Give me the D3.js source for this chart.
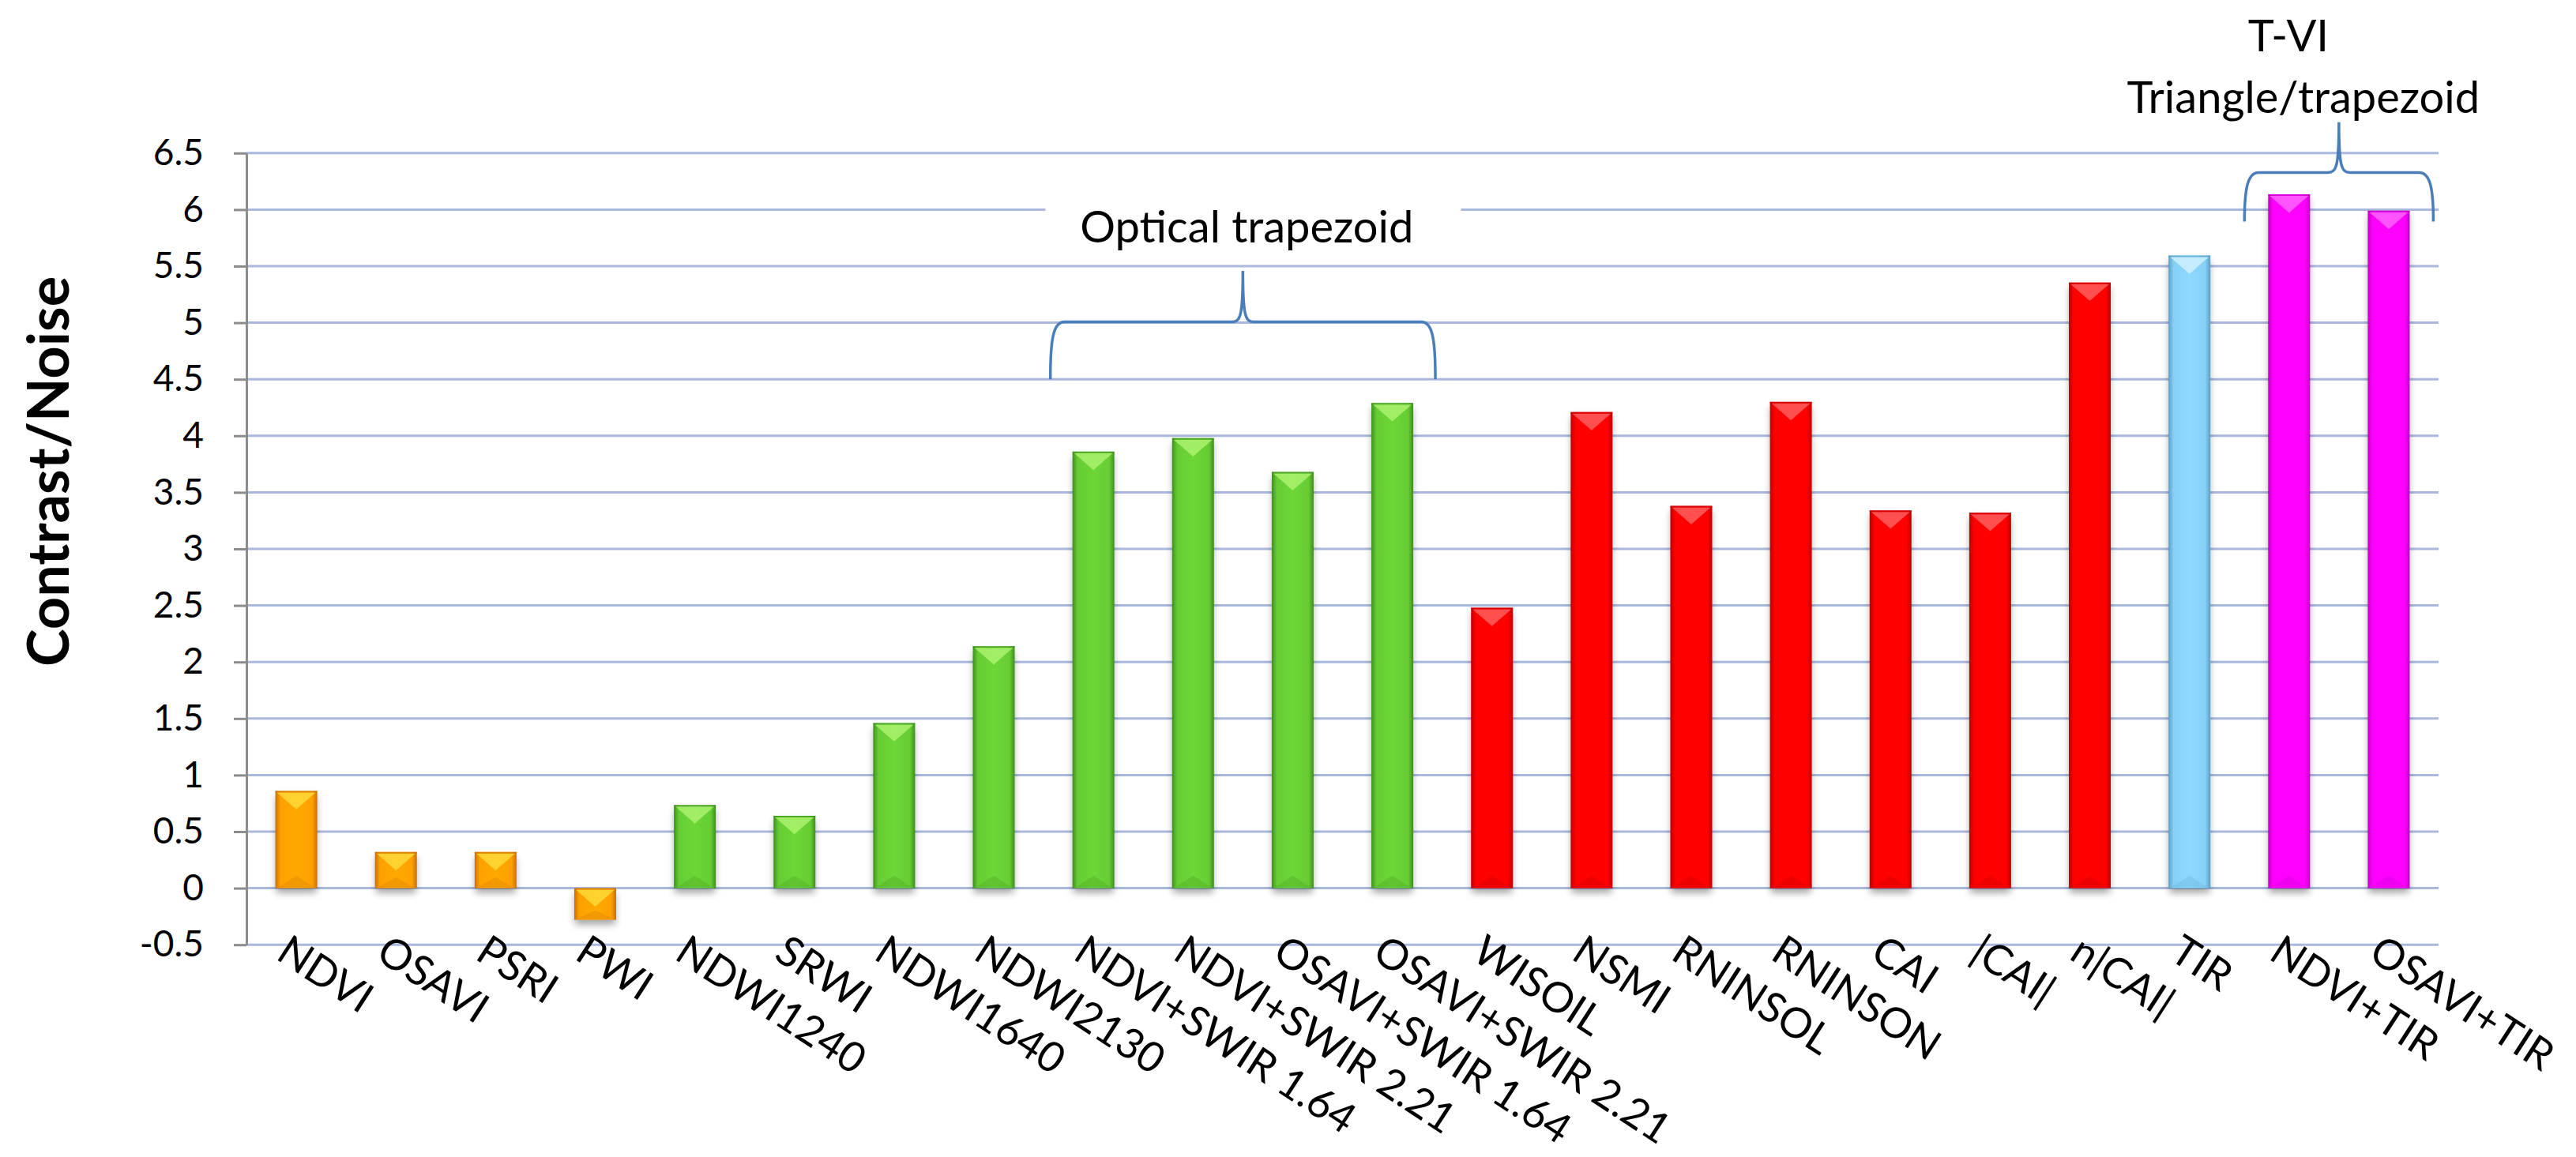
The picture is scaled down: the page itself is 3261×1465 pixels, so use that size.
<!DOCTYPE html>
<html>
<head>
<meta charset="utf-8">
<script src="https://cdn.jsdelivr.net/npm/d3@7"></script>
<style>
    body { margin: 0; background: #ffffff; }
    svg { display: block; }
</style>
</head>
<body>
<div id="chart"></div>
<script>
const WIDTH = 3261;
const HEIGHT = 1465;

const categories = [
    "NDVI", "OSAVI", "PSRI", "PWI", "NDWI1240", "SRWI", "NDWI1640", "NDWI2130",
    "NDVI+SWIR 1.64", "NDVI+SWIR 2.21", "OSAVI+SWIR 1.64", "OSAVI+SWIR 2.21",
    "WISOIL", "NSMI", "RNINSOL", "RNINSON", "CAI", "|CAI|", "n|CAI|",
    "TIR", "NDVI+TIR", "OSAVI+TIR"
];
const values = [
    0.86, 0.32, 0.32, -0.28, 0.735, 0.64, 1.46, 2.14,
    3.86, 3.98, 3.68, 4.29,
    2.48, 4.21, 3.38, 4.30, 3.34, 3.32, 5.355,
    5.595, 6.135, 5.99
];
const groups = [
    "vi", "vi", "vi", "vi", "water", "water", "water", "water",
    "water", "water", "water", "water",
    "soil", "soil", "soil", "soil", "soil", "soil", "soil",
    "tir", "tvi", "tvi"
];
const yTicks = [-0.5, 0, 0.5, 1, 1.5, 2, 2.5, 3, 3.5, 4, 4.5, 5, 5.5, 6, 6.5];
const yTitle = "Contrast/Noise";

// bracket annotations: first/last category covered, label lines
const braceFrom = ["NDVI+SWIR 1.64", "NDVI+TIR"];
const braceTo = ["OSAVI+SWIR 2.21", "OSAVI+TIR"];
const braceLabels = [["Optical trapezoid"], ["T-VI", "Triangle/trapezoid"]];

// colours: main, edge, highlight
const palette = {
    vi:    ["#ffa000", "#c87000", "#ffe040"],
    water: ["#66cc33", "#3e8f1e", "#b4f575"],
    soil:  ["#ff0000", "#c00000", "#ff6a6a"],
    tir:   ["#86cff5", "#5a9fc7", "#d8f3ff"],
    tvi:   ["#ff00ff", "#c000c0", "#ff70ff"]
};

const PLOT_LEFT = 312;
const PLOT_RIGHT = 3087;
const TICK_LEN = 16;
const LABEL_FONT = "Lato, 'Open Sans', sans-serif";

const x = d3.scaleBand()
    .domain(categories)
    .range([PLOT_LEFT, PLOT_RIGHT])
    .paddingInner(0.58)
    .paddingOuter(0.29);

const y = d3.scaleLinear()
    .domain([-0.5, 6.5])
    .range([1196.2, 193.8]);

const svg = d3.select("#chart")
    .append("svg")
    .attr("width", WIDTH)
    .attr("height", HEIGHT);

const defs = svg.append("defs");

Object.keys(palette).forEach((key) => {
    const [main, edge] = palette[key];
    const grad = defs.append("linearGradient")
        .attr("id", "bar-" + key)
        .attr("x1", "0").attr("x2", "1").attr("y1", "0").attr("y2", "0");
    grad.append("stop").attr("offset", "0").attr("stop-color", edge);
    grad.append("stop").attr("offset", "0.12").attr("stop-color", main);
    grad.append("stop").attr("offset", "0.5").attr("stop-color", d3.color(main).brighter(0.15));
    grad.append("stop").attr("offset", "0.88").attr("stop-color", main);
    grad.append("stop").attr("offset", "1").attr("stop-color", edge);
});

const shadow = defs.append("filter")
    .attr("id", "shadow")
    .attr("x", "-30%").attr("y", "-10%")
    .attr("width", "160%").attr("height", "140%");
shadow.append("feGaussianBlur").attr("stdDeviation", 5);

// gridlines
svg.append("g")
    .attr("class", "grid")
    .selectAll("line")
    .data(yTicks)
    .enter()
    .append("line")
    .attr("x1", PLOT_LEFT)
    .attr("x2", PLOT_RIGHT)
    .attr("y1", d => y(d))
    .attr("y2", d => y(d))
    .attr("stroke", "#a9b8dc")
    .attr("stroke-width", 3);

// braces
const bracePath = (x1, x2, yB, yM, yT, xp) => {
    return "M" + x1 + "," + yB
        + " C" + x1 + "," + (yM + 20) + " " + (x1 + 4) + "," + yM + " " + (x1 + 18) + "," + yM
        + " L" + (xp - 14) + "," + yM
        + " C" + (xp - 3) + "," + yM + " " + xp + "," + (yM - 8) + " " + xp + "," + yT
        + " C" + xp + "," + (yM - 8) + " " + (xp + 3) + "," + yM + " " + (xp + 14) + "," + yM
        + " L" + (x2 - 18) + "," + yM
        + " C" + (x2 - 4) + "," + yM + " " + x2 + "," + (yM + 20) + " " + x2 + "," + yB;
};

const braceGeom = [
    {pad: 28, yB: y(4.5), yM: y(5.0) - 1, yT: y(5.5) + 6, textDx: [5], textY: [307], box: true},
    {pad: 30, yB: y(6.0) + 15, yM: y(6.0) - 47, yT: y(6.5) - 39, textDx: [-64, -45], textY: [65, 143], box: false}
];

const gbrace = svg.append("g").attr("class", "braces");
braceLabels.forEach((lines, i) => {
    const g = braceGeom[i];
    const x1 = x(braceFrom[i]) - g.pad;
    const x2 = x(braceTo[i]) + x.bandwidth() + g.pad;
    const xp = (x1 + x2) / 2;
    gbrace.append("path")
        .attr("d", bracePath(x1, x2, g.yB, g.yM, g.yT, xp))
        .attr("fill", "none")
        .attr("stroke", "#4a7ebb")
        .attr("stroke-width", 3.5);

    if (g.box) {
        gbrace.append("rect")
            .attr("x", xp - 250)
            .attr("y", 238)
            .attr("width", 526)
            .attr("height", 86)
            .attr("fill", "#ffffff");
    }
    lines.forEach((line, j) => {
        gbrace.append("text")
            .attr("x", xp + g.textDx[j])
            .attr("y", g.textY[j])
            .attr("text-anchor", "middle")
            .attr("font-family", LABEL_FONT)
            .attr("font-size", 56)
            .attr("fill", "#000000")
            .text(line);
    });
});

// bars
const bars = svg.append("g").attr("class", "bars");
const bw = x.bandwidth();

bars.selectAll("rect.shadow")
    .data(categories)
    .enter()
    .append("rect")
    .attr("class", "shadow")
    .attr("x", d => x(d) + 1)
    .attr("y", (d, i) => y(Math.max(values[i], 0)) + 6)
    .attr("width", bw - 2)
    .attr("height", (d, i) => Math.abs(y(values[i]) - y(0)))
    .attr("fill", "#000000")
    .attr("opacity", 0.35)
    .attr("filter", "url(#shadow)");

bars.selectAll("rect.bar")
    .data(categories)
    .enter()
    .append("rect")
    .attr("class", "bar")
    .attr("x", d => x(d))
    .attr("y", (d, i) => y(Math.max(values[i], 0)))
    .attr("width", bw)
    .attr("height", (d, i) => Math.abs(y(values[i]) - y(0)))
    .attr("fill", (d, i) => "url(#bar-" + groups[i] + ")");

// bevel facet on the top of each bar
bars.selectAll("path.facet")
    .data(categories)
    .enter()
    .append("path")
    .attr("class", "facet")
    .attr("d", (d, i) => {
        const top = y(Math.max(values[i], 0));
        const h = Math.min(bw * 0.44, Math.abs(y(values[i]) - y(0)) * 0.6);
        const x0 = x(d);
        return "M" + (x0 + 2) + "," + (top + 2) + " L" + (x0 + bw - 2) + "," + (top + 2)
            + " L" + (x0 + bw / 2) + "," + (top + h) + " Z";
    })
    .attr("fill", (d, i) => palette[groups[i]][2])
    .attr("opacity", 0.75);

bars.selectAll("path.bottom")
    .data(categories)
    .enter()
    .append("path")
    .attr("class", "bottom")
    .attr("d", (d, i) => {
        const bottom = y(Math.min(values[i], 0));
        const h = Math.min(bw * 0.3, Math.abs(y(values[i]) - y(0)) * 0.3);
        const x0 = x(d);
        return "M" + (x0 + 4) + "," + (bottom - 1) + " L" + (x0 + bw - 4) + "," + (bottom - 1)
            + " L" + (x0 + bw / 2) + "," + (bottom - h) + " Z";
    })
    .attr("fill", (d, i) => palette[groups[i]][1])
    .attr("opacity", 0.25);

bars.selectAll("line.topedge")
    .data(categories)
    .enter()
    .append("line")
    .attr("class", "topedge")
    .attr("x1", d => x(d))
    .attr("x2", d => x(d) + bw)
    .attr("y1", (d, i) => y(Math.max(values[i], 0)) + 1)
    .attr("y2", (d, i) => y(Math.max(values[i], 0)) + 1)
    .attr("stroke", (d, i) => palette[groups[i]][1])
    .attr("stroke-width", 2)
    .attr("opacity", 0.6);

// y axis
const yAxis = d3.axisLeft(y)
    .tickValues(yTicks)
    .tickSize(TICK_LEN)
    .tickSizeOuter(0)
    .tickPadding(38)
    .tickFormat(d => String(d));

const gy = svg.append("g")
    .attr("class", "axis axis-y")
    .attr("transform", "translate(" + PLOT_LEFT + ",0)")
    .call(yAxis);

gy.selectAll("path, line")
    .attr("stroke", "#8c8c8c")
    .attr("stroke-width", 3);
gy.selectAll("text")
    .attr("font-family", LABEL_FONT)
    .attr("font-size", 46)
    .attr("fill", "#000000");

svg.append("text")
    .attr("transform", "translate(87,597) rotate(-90)")
    .attr("text-anchor", "middle")
    .attr("font-family", LABEL_FONT)
    .attr("font-weight", "bold")
    .attr("font-size", 72)
    .attr("fill", "#000000")
    .text(yTitle);

// category labels
svg.append("g")
    .attr("class", "axis-x")
    .selectAll("text")
    .data(categories)
    .enter()
    .append("text")
    .attr("transform", d => "translate(" + (x(d) + bw / 2 - 6) + ",1180) rotate(33)")
    .attr("dy", "0.75em")
    .attr("text-anchor", "start")
    .attr("font-family", LABEL_FONT)
    .attr("font-size", 53)
    .attr("fill", "#000000")
    .text(d => d);
</script>
</body>
</html>
